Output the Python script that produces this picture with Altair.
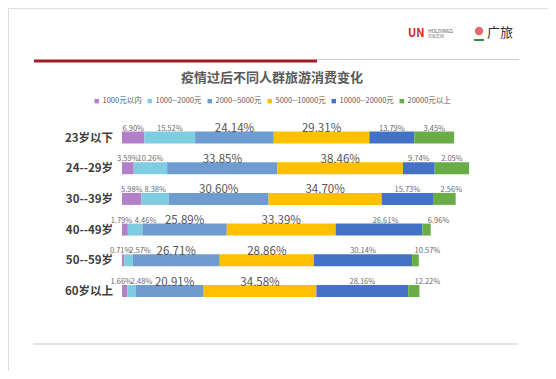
import altair as alt
import pandas as pd

ages = ["23岁以下", "24--29岁", "30--39岁", "40--49岁", "50--59岁", "60岁以上"]
brackets = ["1000元以内", "1000--2000元", "2000--5000元", "5000--10000元", "10000--20000元", "20000元以上"]
colors = ["#b280c8", "#7fcde1", "#6e9cd0", "#ffc000", "#4472c4", "#6aac46"]

# printed percentages (rows follow the age order)
p_1000 = [6.90, 3.59, 5.98, 1.79, 0.71, 1.66]
p_2000 = [15.52, 10.26, 8.38, 4.46, 2.57, 2.48]
p_5000 = [24.14, 33.85, 30.60, 25.89, 26.71, 20.91]
p_10000 = [29.31, 38.46, 34.70, 33.39, 28.86, 34.58]
p_20000 = [13.79, 9.74, 15.73, 26.61, 30.14, 28.16]
p_over = [3.45, 2.05, 2.56, 6.96, 10.57, 12.22]
# drawn length of the last segment in the source picture (appears in reverse order)
p_over_drawn = [12.22, 10.57, 6.96, 2.56, 2.05, 3.45]

title_text = "疫情过后不同人群旅游消费变化"

# ---- layout / style constants (not data) ----
W, H = 540, 363
PX_PER_PCT = 3.26
X0 = 114.0
ROW0, ROW_STEP = 129.5, 30.7
BAR_HALF = 6.0
x_dom = [-X0 / PX_PER_PCT, (W - X0) / PX_PER_PCT]
y_dom = [-ROW0 / ROW_STEP, (H - ROW0) / ROW_STEP]
label_nudge_px = {
    (3, 0): -3.5, (3, 1): 10.5, (4, 0): -2.5, (4, 1): 11.5, (5, 0): -3.5, (5, 1): 10,
    (2, 5): 7, (3, 5): 12, (4, 5): 12, (5, 5): 13.5, (5, 2): 5, (3, 4): 6.5,
}

label_cols = [p_1000, p_2000, p_5000, p_10000, p_20000, p_over]
drawn_cols = [p_1000, p_2000, p_5000, p_10000, p_20000, p_over_drawn]

rows = []
for i, age in enumerate(ages):
    start = 0.0
    for j, b in enumerate(brackets):
        w = drawn_cols[j][i]
        lab = label_cols[j][i]
        mid = start + w / 2 + label_nudge_px.get((i, j), 0) / PX_PER_PCT
        rows.append({
            "age": age, "row": i, "bracket": b, "order": j,
            "start": start, "end": start + w, "mid": mid,
            "label": f"{lab:.2f}%", "big": j in (2, 3),
        })
        start += w
df = pd.DataFrame(rows)
age_df = pd.DataFrame({"age": ages, "row": list(range(len(ages)))})

xs = alt.Scale(domain=x_dom, range=[0, W], nice=False, zero=False)
ys = alt.Scale(domain=y_dom, range=[0, H], nice=False, zero=False)
half = BAR_HALF / ROW_STEP

bars = alt.Chart(df).mark_rect().transform_calculate(
    y0=f"datum.row - {half}", y1=f"datum.row + {half}"
).encode(
    x=alt.X("start:Q", scale=xs, axis=None),
    x2="end:Q",
    y=alt.Y("y0:Q", scale=ys, axis=None),
    y2="y1:Q",
    color=alt.Color(
        "bracket:N",
        scale=alt.Scale(domain=brackets, range=colors),
        legend=alt.Legend(
            orient="none", legendX=85, legendY=89, direction="horizontal",
            title=None, symbolType="square", symbolSize=20, symbolStrokeWidth=0,
            labelFontSize=7.5, labelColor="#595959", labelOffset=2,
            columnPadding=4, padding=0, labelFont="Noto Sans CJK SC",
        ),
    ),
)

big_lab = alt.Chart(df).transform_filter("datum.big").mark_text(
    fontSize=11.5, color="#555555", baseline="middle", dy=-8.5, font="Noto Sans CJK SC"
).encode(
    x=alt.X("mid:Q", scale=xs, axis=None),
    y=alt.Y("row:Q", scale=ys, axis=None),
    text="label:N",
)
small_lab = alt.Chart(df).transform_filter("!datum.big").mark_text(
    fontSize=7.5, color="#6b6b6b", baseline="middle", dy=-9, font="Noto Sans CJK SC"
).encode(
    x=alt.X("mid:Q", scale=xs, axis=None),
    y=alt.Y("row:Q", scale=ys, axis=None),
    text="label:N",
)
age_lab = alt.Chart(age_df).mark_text(
    fontSize=11.5, fontWeight="bold", color="#404040", align="right",
    baseline="middle", dy=1, font="Noto Sans CJK SC"
).encode(
    x=alt.value(105),
    y=alt.Y("row:Q", scale=ys, axis=None),
    text="age:N",
)

one = alt.Data(values=[{"k": 1}])


def txt(s, x, y, **kw):
    return alt.Chart(one).mark_text(text=s, font="Noto Sans CJK SC", **kw).encode(
        x=alt.value(x), y=alt.value(y))


def rule(x1, x2, y, color, sw):
    return alt.Chart(one).mark_rule(color=color, strokeWidth=sw).encode(
        x=alt.value(x1), x2=alt.value(x2), y=alt.value(y))


title = txt(title_text, 264, 70, fontSize=13, fontWeight="bold", color="#595959",
            align="center", baseline="middle")
red_line = rule(26, 309, 53, "#a01c24", 3)
gray_line = rule(309, 511, 51.5, "#cfcfcf", 1)
bottom_line = rule(25, 510, 336, "#d3dbe6", 1.5)

logo_un = txt("UN", 400, 26, fontSize=11, fontWeight="bold", color="#d22630",
              align="left", baseline="middle")
logo_h = txt("HOLDINGS", 420, 23, fontSize=5, color="#555555", align="left", baseline="middle")
logo_h2 = txt("控股集团", 420, 29, fontSize=4, color="#888888", align="left", baseline="middle")
flower = alt.Chart(one).mark_point(filled=True, color="#d52b2b", size=70, shape="circle").encode(
    x=alt.value(471), y=alt.value(23))
leaf = rule(466, 476, 32, "#2f8f3a", 2)
logo_gl = txt("广旅", 479, 25, fontSize=13, color="#333333", align="left", baseline="middle")

chart = alt.layer(
    red_line, gray_line, bottom_line, title, bars, big_lab, small_lab, age_lab,
    logo_un, logo_h, logo_h2, flower, leaf, logo_gl,
).properties(
    width=W, height=H, padding=0,
    autosize=alt.AutoSizeParams(type="none"),
).configure_view(stroke=None).configure(background="white")

chart.save("out.html", embed_options={"renderer": "svg", "actions": False})
